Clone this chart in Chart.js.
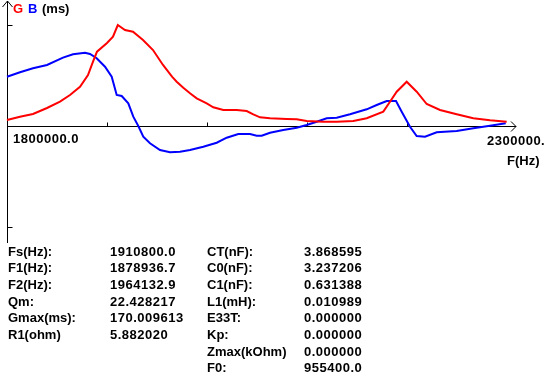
<!DOCTYPE html>
<html>
<head>
<meta charset="utf-8">
<script src="https://cdn.jsdelivr.net/npm/chart.js@4/dist/chart.umd.min.js"></script>
<style>
  html, body { margin: 0; padding: 0; background: #fff; overflow: hidden; }
  #wrap { position: relative; width: 544px; height: 372px; overflow: hidden; }
  #c { position: absolute; left: 0; top: 0; }
  .t { position: absolute; font: bold 13px "Liberation Sans", Arial, sans-serif; line-height: 13px; color: #000; white-space: nowrap; }
  .num { letter-spacing: 0.5px; }
</style>
</head>
<body>
<div id="wrap">
  <canvas id="c" width="544" height="372"></canvas>
</div>
<script>
"use strict";

// G (conductance, ms) - red curve
const gFreq = [1800000, 1813000, 1826000, 1840000, 1853000, 1863000, 1873000, 1881000, 1886000, 1890000,
  1900000, 1906000, 1910800, 1918000, 1926000, 1936000, 1946000, 1956000, 1965000, 1969700,
  1976300, 1983000, 1989700, 1999700, 2006300, 2016300, 2029700, 2039700, 2046300, 2053000,
  2063000, 2079700, 2089700, 2099700, 2116300, 2129700, 2146300, 2159700, 2176300, 2183000,
  2189700, 2199700, 2209700, 2219700, 2233000, 2249700, 2266300, 2283000, 2299700];
const gValues = [10.1, 15.7, 20.2, 30.3, 40.9, 52.2, 66.1, 85.8, 108.3, 125.1,
  139.7, 150.3, 170.0, 161.6, 158.7, 144.8, 127.9, 102.7, 83.0, 74.6,
  64.5, 55.0, 46.6, 38.2, 31.5, 26.9, 26.9, 25.2, 19.7, 14.6,
  13.0, 11.8, 11.3, 8.4, 7.2, 7.2, 8.4, 13.0, 24.1, 40.9,
  57.7, 74.6, 57.7, 37.0, 26.9, 19.7, 13.0, 9.6, 7.2];

// B (susceptance, ms) - blue curve
const bFreq = [1800000, 1813000, 1826000, 1840000, 1856000, 1866000, 1878000, 1883000, 1889700, 1898000,
  1904700, 1909700, 1914700, 1921300, 1926300, 1931300, 1936300, 1943000, 1953000, 1963000,
  1973000, 1983000, 1996300, 2009700, 2019700, 2031300, 2043000, 2049700, 2054700, 2063000,
  2076300, 2089700, 2099700, 2109700, 2119700, 2129700, 2143000, 2159700, 2169700, 2179700,
  2189000, 2194700, 2203000, 2209700, 2218000, 2229700, 2249700, 2266300, 2283000, 2298700];
const bValues = [83.0, 90.4, 97.1, 102.7, 115.0, 120.7, 123.4, 121.2, 114.0, 99.8,
  83.0, 52.2, 50.5, 38.2, 15.7, 0, -18.0, -29.1, -40.4, -44.3,
  -43.3, -40.4, -34.8, -28.1, -19.7, -13.5, -13.5, -16.3, -16.3, -11.3,
  -6.7, -2.9, 1.7, 7.2, 13.0, 14.0, 19.7, 28.1, 35.3, 42.1,
  42.1, 24.1, -1.2, -16.8, -18.0, -10.6, -8.4, -3.9, 0.5, 4.5];

const xMin = 1800000, xMax = 2300000;
const yTick = 170;
const xTicks = [1900000, 2000000, 2100000, 2200000];

// result table
const leftLabels = ["Fs(Hz):", "F1(Hz):", "F2(Hz):", "Qm:", "Gmax(ms):", "R1(ohm)"];
const leftValues = ["1910800.0", "1878936.7", "1964132.9", "22.428217", "170.009613", "5.882020"];
const rightLabels = ["CT(nF):", "C0(nF):", "C1(nF):", "L1(mH):", "E33T:", "Kp:", "Zmax(kOhm)", "F0:"];
const rightValues = ["3.868595", "3.237206", "0.631388", "0.010989", "0.000000", "0.000000", "0.000000", "955400.0"];

function toPoints(xs, ys) {
    return xs.map(function (x, i) { return { x: x, y: ys[i] }; });
}

const wrap = document.getElementById('wrap');
function addText(txt, x, y, color, cls) {
    var d = document.createElement('div');
    d.className = 't' + (cls ? ' ' + cls : '');
    d.textContent = txt;
    d.style.left = x + 'px';
    d.style.top = y + 'px';
    if (color) d.style.color = color;
    wrap.appendChild(d);
    return d;
}

// axes with arrows, drawn from the chart scales
const axesPlugin = {
    id: 'axes',
    beforeDatasetsDraw: function (chart) {
        var ctx = chart.ctx;
        var xs = chart.scales.x, ys = chart.scales.y;
        var x0 = Math.round(xs.getPixelForValue(xMin)) + 0.5;
        var y0 = Math.round(ys.getPixelForValue(0)) + 0.5;
        ctx.save();
        ctx.strokeStyle = '#000';
        ctx.lineWidth = 1;
        ctx.beginPath();
        // y axis
        ctx.moveTo(x0, 1);
        ctx.lineTo(x0, 243);
        ctx.moveTo(x0, 1);
        ctx.lineTo(x0 - 5, 7);
        ctx.moveTo(x0, 1);
        ctx.lineTo(x0 + 5, 7);
        // x axis
        ctx.moveTo(x0, y0);
        ctx.lineTo(516, y0);
        ctx.moveTo(516, y0);
        ctx.lineTo(511, y0 - 5);
        ctx.moveTo(516, y0);
        ctx.lineTo(511, y0 + 5);
        // y ticks
        [yTick, -yTick].forEach(function (v) {
            var py = Math.round(ys.getPixelForValue(v)) + 0.5;
            ctx.moveTo(x0, py);
            ctx.lineTo(x0 + 5, py);
        });
        // x ticks
        xTicks.forEach(function (v) {
            var px = Math.round(xs.getPixelForValue(v)) + 0.5;
            ctx.moveTo(px, y0);
            ctx.lineTo(px, y0 - 4);
        });
        ctx.stroke();
        ctx.restore();
    }
};

var ctx = document.getElementById('c').getContext('2d');
var chart = new Chart(ctx, {
    type: 'line',
    data: {
        datasets: [
            {
                label: 'G',
                data: toPoints(gFreq, gValues),
                borderColor: '#ff0000',
                borderWidth: 2,
                pointRadius: 0,
                tension: 0,
                fill: false,
                clip: false
            },
            {
                label: 'B',
                data: toPoints(bFreq, bValues),
                borderColor: '#0000ff',
                borderWidth: 2,
                pointRadius: 0,
                tension: 0,
                fill: false,
                clip: false
            }
        ]
    },
    options: {
        responsive: false,
        animation: false,
        layout: { padding: { left: 7, right: 37, top: 25, bottom: 145 } },
        plugins: {
            legend: { display: false },
            tooltip: { enabled: false }
        },
        scales: {
            x: { type: 'linear', min: xMin, max: xMax, display: false },
            y: { type: 'linear', min: -yTick, max: yTick, display: false }
        }
    },
    plugins: [axesPlugin]
});

// header "G B (ms)"
addText('G', 13, 2, '#ff0000');
addText('B', 28, 2, '#0000ff');
addText('(ms)', 42, 2);

// axis labels
addText(xMin.toFixed(1), 13, 132, null, 'num');
addText(xMax.toFixed(1), 487, 134, null, 'num');
addText('F(Hz)', 507, 154);

// table
var rowStep = 16.67, rowTop = 244.5;
leftLabels.forEach(function (s, i) { addText(s, 8, rowTop + i * rowStep); });
leftValues.forEach(function (s, i) { addText(s, 110, rowTop + i * rowStep, null, 'num'); });
rightLabels.forEach(function (s, i) { addText(s, 207, rowTop + i * rowStep); });
rightValues.forEach(function (s, i) { addText(s, 304, rowTop + i * rowStep, null, 'num'); });
</script>
</body>
</html>
